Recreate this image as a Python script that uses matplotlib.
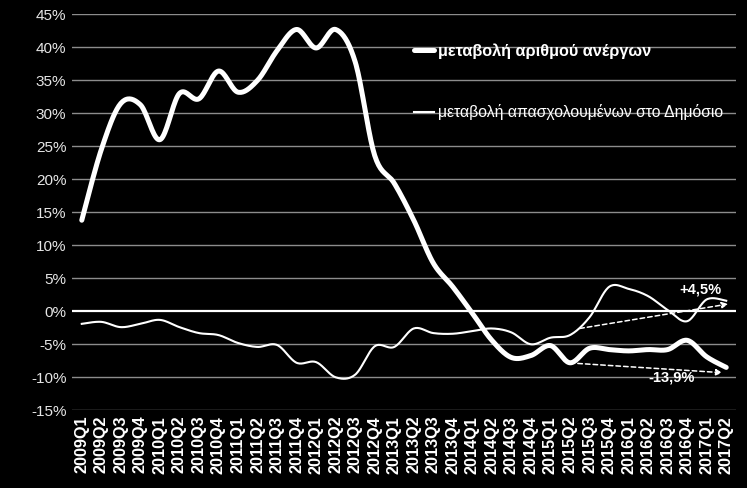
import numpy as np
import matplotlib
matplotlib.use('Agg')
import matplotlib.pyplot as plt
from matplotlib.lines import Line2D

BG = '#000000'
TEXT = '#ffffff'
TICK = '#e6e6e6'
GRID = '#8c8c8c'

plt.rcParams['font.family'] = ['Liberation Sans', 'DejaVu Sans']

quarters = [f'{y}Q{q}' for y in range(2009, 2018) for q in range(1, 5)][:34]

# % change in number of unemployed (thick line)
unemployed = [13.8, 24.5, 31.5, 31.3, 26.0, 33.0, 32.2, 36.4, 33.2, 35.0,
              39.5, 42.7, 39.9, 42.7, 37.8, 23.6, 19.4, 13.8, 7.3, 3.7,
              -0.3, -4.4, -7.0, -6.7, -5.2, -7.8, -5.6, -5.8, -6.0, -5.8,
              -5.8, -4.4, -6.9, -8.5]

# % change in public sector employment (thin line)
public_emp = [-1.9, -1.6, -2.4, -1.9, -1.3, -2.4, -3.3, -3.6, -4.8, -5.4,
              -5.1, -7.8, -7.7, -10.0, -9.6, -5.3, -5.4, -2.6, -3.3, -3.4,
              -3.0, -2.6, -3.2, -5.0, -4.0, -3.6, -0.9, 3.7, 3.4, 2.3,
              0.2, -1.5, 1.8, 1.6]

label_unemp = 'μεταβολή αριθμού ανέργων'
label_public = 'μεταβολή απασχολουμένων στο Δημόσιο'

# trend arrows: (start, end) in (quarter index, %)
arrow_up = [(25.5, -2.6), (33.1, 1.1)]
arrow_down = [(25.4, -7.9), (32.8, -9.3)]
note_up = (31.7, 3.3, '+4,5%')
note_down = (30.2, -10.0, '-13,9%')


def smooth(vals, n=20):
    # Catmull-Rom curve through the points, like Excel's smoothed line
    p = np.asarray(vals, dtype=float)
    x = np.arange(len(p), dtype=float)
    pts = np.column_stack([x, p])
    pts = np.vstack([pts[0], pts, pts[-1]])
    out = []
    t = np.linspace(0, 1, n, endpoint=False)[:, None]
    for i in range(1, len(pts) - 2):
        p0, p1, p2, p3 = pts[i - 1], pts[i], pts[i + 1], pts[i + 2]
        seg = 0.5 * ((2 * p1) + (-p0 + p2) * t +
                     (2 * p0 - 5 * p1 + 4 * p2 - p3) * t ** 2 +
                     (-p0 + 3 * p1 - 3 * p2 + p3) * t ** 3)
        out.append(seg)
    out.append(pts[-2][None, :])
    out = np.vstack(out)
    return out[:, 0], out[:, 1]


fig = plt.figure(figsize=(7.47, 4.88), dpi=100, facecolor=BG)
ax = fig.add_axes([72 / 747, 1 - 410.3 / 488, 664 / 747, 396 / 488])
ax.set_facecolor(BG)

ax.set_xlim(-0.5, len(quarters) - 0.5)
ax.set_ylim(-15, 45)
yt = np.arange(-15, 50, 5)
ax.set_yticks(yt)
ax.set_yticklabels([f'{v}%' for v in yt], color=TICK, fontsize=11)
ax.set_xticks(range(len(quarters)))
ax.set_xticklabels(quarters, rotation=90, color=TEXT, fontsize=11.7,
                   fontweight='bold')
ax.tick_params(length=0, pad=4)

for v in yt:
    if v == 0:
        ax.axhline(v, color=TEXT, lw=1.6, zorder=1)
    else:
        ax.axhline(v, color=GRID, lw=1.0, zorder=1)
for s in ax.spines.values():
    s.set_visible(False)

xs, ys = smooth(unemployed)
ax.plot(xs, ys, color=TEXT, lw=3.6, solid_capstyle='round', zorder=3)
xs, ys = smooth(public_emp)
ax.plot(xs, ys, color=TEXT, lw=1.5, zorder=3)

for (s, e) in [arrow_up, arrow_down]:
    ax.annotate('', xy=e, xytext=s,
                arrowprops=dict(arrowstyle='-|>', color=TEXT, lw=1.1,
                                linestyle=(0, (3, 2)), mutation_scale=9,
                                shrinkA=0, shrinkB=0), zorder=4)
for (x, y, t) in [note_up, note_down]:
    ax.text(x, y, t, color=TEXT, fontsize=10.5, fontweight='bold',
            ha='center', va='center', zorder=5)

handles = [Line2D([0], [0], color=TEXT, lw=3.6, solid_capstyle='round'),
           Line2D([0], [0], color=TEXT, lw=1.5)]
leg = ax.legend(handles, [label_unemp, label_public], loc='upper left',
                bbox_to_anchor=(0.515, 0.927), frameon=False, fontsize=11.3,
                labelspacing=2.9, handlelength=1.3, handletextpad=0.2,
                borderpad=0, borderaxespad=0)
for t in leg.get_texts():
    t.set_color(TEXT)
leg.get_texts()[0].set_fontweight('bold')
leg.get_texts()[0].set_fontsize(11.7)

fig.savefig('out.png', dpi=100, facecolor=BG)
